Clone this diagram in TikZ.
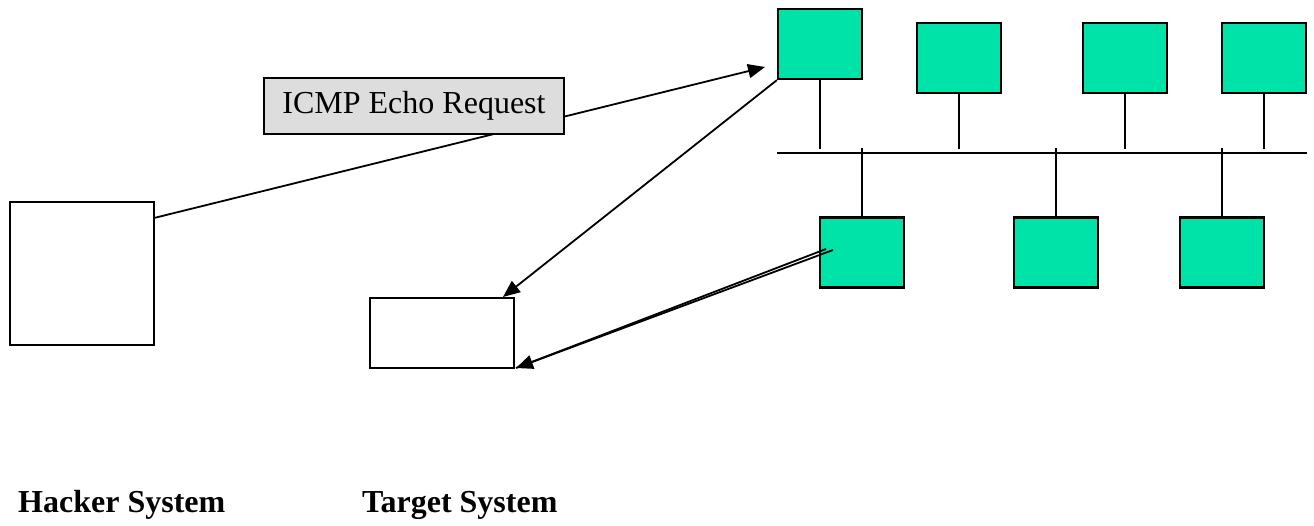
\documentclass[tikz,border=0pt]{standalone}
\usepackage{fontspec}
\setmainfont{Liberation Serif}
\usetikzlibrary{arrows.meta}
\definecolor{hostgreen}{RGB}{0,227,168}
\definecolor{labelgray}{RGB}{221,221,221}
\begin{document}
\begin{tikzpicture}[x=1pt,y=-1pt,
  host/.style={draw=black,line width=2.2pt,fill=hostgreen,inner sep=0pt,minimum width=84pt,minimum height=70pt},
  sys/.style={draw=black,line width=2.2pt,fill=white,inner sep=0pt},
  wire/.style={line width=1.8pt},
  msg/.style={-{Triangle[length=17pt,width=14pt]},line width=1.8pt},
  caption/.style={font=\fontsize{32}{36}\selectfont\bfseries,anchor=base west,inner sep=0pt},
  msglabel/.style={draw=black,line width=1.6pt,fill=labelgray,inner sep=0pt,minimum width=300pt,minimum height=56pt,font=\fontsize{32}{36}\selectfont}]
\useasboundingbox (0,0) rectangle (1314,525);
% hosts on the network
\node[host] (t1) at (820,44) {};
\node[host] (t2) at (959,58) {};
\node[host] (t3) at (1125,58) {};
\node[host] (t4) at (1264,58) {};
\node[host] (b1) at (862,252.5) {};
\node[host] (b2) at (1056,252.5) {};
\node[host] (b3) at (1222,252.5) {};
% hacker and target systems
\node[sys,minimum width=144pt,minimum height=143pt] (hacker) at (82,273.5) {};
\node[sys,minimum width=144pt,minimum height=70pt] (target) at (442,333) {};
% bus
\coordinate (busL) at (777,153);
\coordinate (busR) at (1307,153);
\coordinate (topstub) at (0,149);
\coordinate (botstub) at (0,148);
\draw[wire] (busL) -- (busR);
\foreach \n in {t1,t2,t3,t4}{
  \draw[wire] (\n.south) -- (\n.south |- topstub);
}
\foreach \n in {b1,b2,b3}{
  \draw[wire] (\n.north) -- (\n.north |- botstub);
}
% connectors
\coordinate (hout) at (154,218);
\coordinate (t1in) at (765,67);
\coordinate (tgtTR) at (503,297);
\coordinate (b1a) at (826,249);
\coordinate (b1b) at (833,250);
\coordinate (tgtBR) at (516,368);
\draw[msg] (hout) -- (t1in);
\draw[msg] (t1.south west) -- (tgtTR);
\draw[wire] (b1a) -- (tgtBR);
\draw[msg] (b1b) -- (tgtBR);
% label
\node[msglabel] (req) at (414,106) {ICMP Echo Request};
% captions
\node[caption] (hcap) at (18,512) {Hacker System};
\node[caption] (tcap) at (362,512) {Target System};
\end{tikzpicture}
\end{document}
